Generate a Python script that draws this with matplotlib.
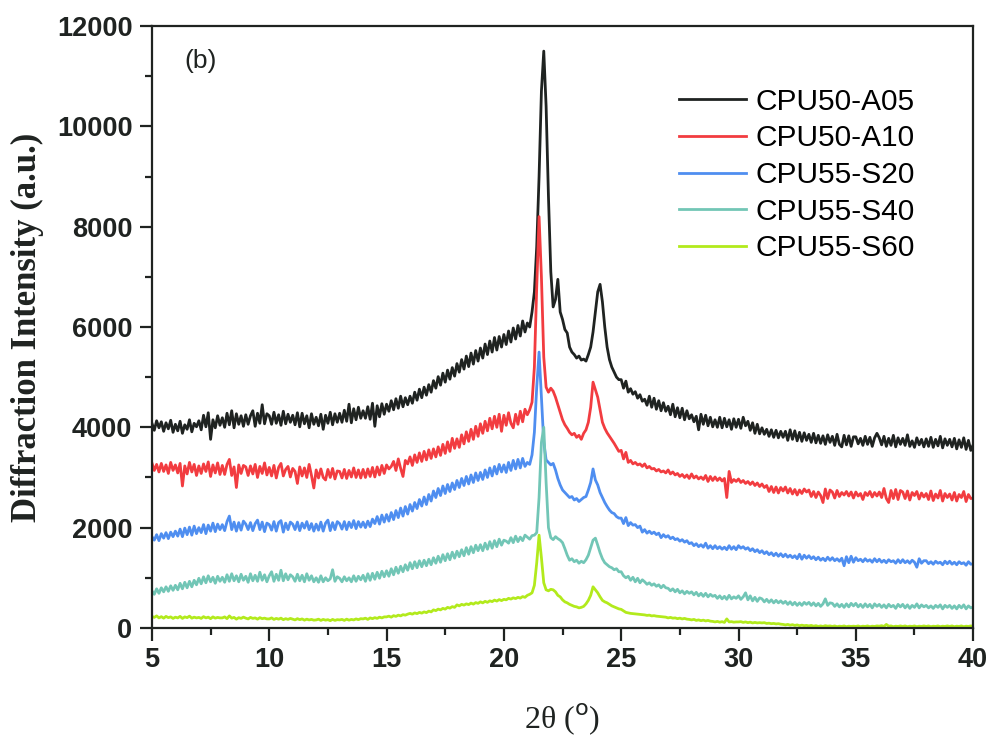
import numpy as np
import matplotlib
matplotlib.use("Agg")
import matplotlib.pyplot as plt
from matplotlib.ticker import MultipleLocator

# 2-theta grid, 0.1 deg steps from 5 to 40
two_theta = np.linspace(5, 40, 351)

labels = ["CPU50-A05", "CPU50-A10", "CPU55-S20", "CPU55-S40", "CPU55-S60"]
colors = ["#1f2321", "#f23c40", "#4f8ef0", "#72c6b6", "#b2ea1c"]

cpu50_a05 = [
    4080, 3940, 4130, 3990, 4110, 3920, 4090, 3970, 4140, 3900,
    4060, 3930, 4120, 3880, 4050, 3960, 4150, 3910, 4080, 4010,
    4130, 3950, 4240, 4010, 4290, 3760, 4150, 3990, 4230, 4040,
    4190, 4000, 4280, 4050, 4330, 3990, 4270, 4060, 4230, 4020,
    4250, 4060, 4230, 4330, 4020, 4280, 4080, 4450, 4070, 4270,
    4230, 4060, 4300, 4080, 4250, 4040, 4320, 4070, 4260, 4100,
    4240, 4050, 4290, 4010, 4280, 4070, 4230, 3990, 4270, 4060,
    4200, 4030, 4260, 3960, 4240, 4080, 4300, 4050, 4270, 4100,
    4280, 4100, 4340, 4120, 4460, 4090, 4370, 4150, 4400, 4180,
    4330, 4180, 4410, 4160, 4480, 4020, 4430, 4210, 4470, 4260,
    4460, 4320, 4530, 4350, 4570, 4380, 4620, 4410, 4590, 4450,
    4620, 4480, 4700, 4540, 4760, 4590, 4800, 4640, 4850, 4700,
    4930, 4780, 5010, 4840, 5080, 4900, 5140, 4960, 5190, 5020,
    5270, 5100, 5350, 5160, 5420, 5210, 5480, 5260, 5530, 5320,
    5580, 5380, 5660, 5450, 5720, 5500, 5790, 5540, 5810, 5600,
    5850, 5650, 5920, 5700, 5980, 5760, 6030, 5820, 6120, 5900,
    6080, 6000, 6300, 6700, 7600, 9000, 10700, 11500, 10400, 8600,
    7100, 6400, 6550, 6950, 6300, 6150, 5950, 5880, 5600, 5500,
    5450, 5380, 5420, 5340, 5360, 5320, 5450, 5600, 5900, 6300,
    6700, 6850, 6500, 6000, 5600, 5350, 5200, 5100, 5000, 4950,
    4950, 4780, 4920, 4700, 4770, 4660, 4710, 4580, 4650, 4520,
    4560, 4440, 4620, 4400, 4580, 4360, 4530, 4330, 4490, 4320,
    4420, 4250, 4460, 4210, 4390, 4190, 4380, 4150, 4330, 4170,
    4250, 4110, 4220, 3950, 4260, 4060, 4240, 4030, 4200, 4010,
    4150, 4000, 4200, 3990, 4180, 4010, 4150, 3960, 4170, 4000,
    4160, 3980, 4200, 4030, 4120, 3940, 4090, 3880, 4060, 3870,
    3990, 3860, 3960, 3820, 3950, 3800, 3940, 3790, 3920, 3800,
    3920, 3740, 3950, 3760, 3930, 3730, 3900, 3720, 3890, 3740,
    3860, 3700, 3880, 3690, 3840, 3680, 3830, 3660, 3850, 3700,
    3820, 3640, 3860, 3660, 3610, 3840, 3650, 3830, 3620, 3810,
    3810, 3670, 3780, 3640, 3820, 3660, 3800, 3620, 3790, 3880,
    3790, 3650, 3820, 3620, 3780, 3640, 3840, 3610, 3790, 3660,
    3780, 3640, 3850, 3620, 3730, 3600, 3790, 3650, 3760, 3610,
    3770, 3620, 3800, 3600, 3760, 3630, 3820, 3590, 3770, 3640,
    3760, 3610, 3780, 3570, 3750, 3600, 3790, 3560, 3740, 3540,
    3650,
]

cpu50_a10 = [
    3290, 3140, 3260, 3110, 3280, 3120, 3250, 3080, 3300, 3140,
    3250, 3090, 3280, 2830, 3230, 3070, 3300, 3110, 3260, 3040,
    3230, 3080, 3270, 3120, 3310, 3020, 3250, 3090, 3290, 3060,
    3240, 3060, 3260, 3360, 3040, 3210, 2800, 3250, 3080, 3240,
    3210, 3040, 3230, 3070, 3260, 3000, 3220, 3080, 3290, 3050,
    3200, 3030, 3240, 2990, 3200, 3280, 3030, 3160, 3220, 3010,
    3180, 3120, 2880, 3210, 3030, 3190, 3000, 3260, 3040, 2790,
    3150, 2990, 3170, 3000, 2950, 3160, 3000, 3180, 2970, 3130,
    3120, 2990, 3160, 2980, 3140, 3010, 3190, 3000, 3150, 2990,
    3160, 3000, 3170, 3020, 3200, 3010, 3210, 3050, 3240, 3080,
    3250, 3170, 3220, 3320, 3140, 3370, 3180, 3020, 3340, 3270,
    3410, 3240, 3450, 3300, 3490, 3320, 3520, 3350, 3550, 3380,
    3570, 3410, 3610, 3440, 3660, 3480, 3710, 3520, 3780, 3580,
    3770, 3600, 3850, 3670, 3910, 3720, 3960, 3760, 4020, 3820,
    4070, 3880, 4120, 3930, 4180, 3970, 4220, 4000, 4260, 3920,
    4240, 4040, 4290, 4080, 3990, 4260, 4060, 4320, 4110, 4360,
    4250, 4350, 4500, 5200, 6800, 8200, 7000, 5400, 4800, 4700,
    4780, 4720, 4600, 4450, 4300, 4150, 4050, 3980, 3900, 3850,
    3880, 3800, 3840, 3760, 3880, 3950, 4100, 4400, 4900, 4750,
    4600, 4350, 4100, 3980, 3890, 3820, 3750, 3680, 3600, 3520,
    3540, 3370, 3500, 3300, 3340, 3270, 3300, 3250, 3270, 3220,
    3270, 3190, 3220, 3170, 3180, 3130, 3160, 3110, 3130, 3090,
    3150, 3070, 3110, 3050, 3080, 3020, 3060, 3000, 3050, 2980,
    3070, 2990, 3030, 2970, 3010, 2960, 3040, 2920, 3020, 2940,
    3010, 2940, 2990, 2930, 2980, 2600, 3120, 2900, 2960, 2920,
    2970, 2900, 2940, 2880, 2920, 2860, 2910, 2840, 2890, 2820,
    2870, 2800, 2840, 2720, 2820, 2700, 2810, 2690, 2800, 2730,
    2810, 2690, 2780, 2670, 2760, 2650, 2750, 2680, 2770, 2710,
    2750, 2620, 2720, 2600, 2710, 2640, 2500, 2770, 2580, 2750,
    2710, 2590, 2740, 2620, 2700, 2650, 2720, 2630, 2710, 2590,
    2710, 2630, 2680, 2560, 2700, 2640, 2720, 2610, 2700, 2630,
    2710, 2600, 2780, 2580, 2500, 2740, 2580, 2760, 2560, 2740,
    2710, 2580, 2730, 2550, 2700, 2640, 2720, 2570, 2690, 2610,
    2680, 2560, 2730, 2540, 2670, 2590, 2740, 2530, 2680, 2600,
    2670, 2550, 2700, 2530, 2660, 2600, 2720, 2520, 2660, 2580,
    2590,
]

cpu55_s20 = [
    1820, 1750, 1860, 1740, 1880, 1790, 1900, 1780, 1910, 1820,
    1930, 1830, 1970, 1820, 1990, 1860, 2010, 1850, 2030, 1880,
    2000, 1900, 2060, 1880, 2050, 1930, 2090, 1920, 2070, 1960,
    2060, 1940, 2120, 2230, 1960, 2110, 1930, 2100, 1950, 2130,
    2070, 1960, 2100, 1940, 2080, 2150, 1960, 2110, 1920, 2090,
    2060, 1950, 2120, 1930, 2100, 2140, 1910, 2090, 1960, 2110,
    2070, 1960, 2110, 1940, 2090, 1990, 2120, 1960, 2080, 1930,
    2070, 1950, 2110, 1930, 2090, 2150, 1940, 2100, 1960, 2120,
    2080, 1970, 2120, 1960, 2110, 2000, 2140, 1980, 2120, 2010,
    2110, 2000, 2130, 2020, 2170, 2080, 2220, 2070, 2250, 2110,
    2260, 2130, 2300, 2160, 2340, 2200, 2390, 2230, 2420, 2270,
    2460, 2330, 2500, 2380, 2560, 2430, 2610, 2460, 2660, 2530,
    2730, 2600, 2780, 2640, 2830, 2680, 2860, 2720, 2890, 2760,
    2940, 2800, 2980, 2840, 3020, 2870, 3050, 2900, 3090, 2940,
    3100, 2960, 3150, 3000, 3190, 3030, 3220, 3070, 3260, 3110,
    3250, 3100, 3300, 3140, 3340, 3170, 3360, 3190, 3380, 3220,
    3300, 3260, 3450, 3900, 4800, 5500, 4600, 3700, 3350, 3300,
    3250, 3280, 3150, 2980, 2850, 2750, 2700, 2650, 2600, 2620,
    2550, 2580, 2520, 2560, 2600, 2620, 2750, 2900, 3170, 2950,
    2850, 2700, 2600, 2500, 2420, 2350, 2300, 2280, 2220, 2190,
    2190, 2080, 2200, 2040, 2100, 2050, 2060, 2000, 2030, 1910,
    1960, 1890, 1930, 1880, 1910, 1860, 1890, 1800, 1860, 1810,
    1840, 1780, 1810, 1760, 1780, 1730, 1760, 1710, 1740, 1680,
    1700, 1640, 1680, 1620, 1660, 1610, 1690, 1590, 1640, 1580,
    1640, 1580, 1620, 1570, 1610, 1560, 1640, 1570, 1620, 1560,
    1640, 1590, 1620, 1570, 1600, 1540, 1580, 1520, 1560, 1500,
    1540, 1480, 1520, 1460, 1500, 1440, 1490, 1430, 1480, 1420,
    1470, 1410, 1450, 1400, 1440, 1380, 1470, 1370, 1450, 1390,
    1440, 1380, 1420, 1360, 1410, 1350, 1390, 1340, 1410, 1350,
    1400, 1340, 1380, 1330, 1390, 1240, 1420, 1300, 1430, 1310,
    1400, 1340, 1370, 1320, 1380, 1330, 1360, 1310, 1380, 1320,
    1370, 1310, 1350, 1300, 1360, 1320, 1340, 1290, 1360, 1300,
    1360, 1300, 1340, 1290, 1350, 1310, 1210, 1380, 1290, 1340,
    1340, 1280, 1320, 1270, 1330, 1290, 1310, 1260, 1330, 1280,
    1330, 1270, 1310, 1260, 1320, 1280, 1300, 1250, 1320, 1270,
    1280,
]

cpu55_s40 = [
    740, 670, 780, 690, 800, 720, 820, 730, 840, 750,
    850, 760, 890, 780, 910, 800, 930, 820, 950, 860,
    990, 880, 1020, 900, 1040, 920, 1010, 890, 1030, 930,
    1010, 910, 1060, 930, 1080, 940, 1040, 920, 1070, 950,
    1030, 910, 1080, 940, 1050, 930, 1110, 950, 1060, 920,
    1040, 1120, 930, 1070, 950, 1150, 940, 1080, 960, 1060,
    1020, 930, 1070, 940, 1050, 920, 1080, 950, 1040, 920,
    1000, 910, 1040, 920, 1000, 940, 980, 1160, 930, 1020,
    990, 920, 1020, 940, 1000, 920, 1040, 930, 1030, 960,
    1050, 930, 1080, 950, 1090, 970, 1110, 990, 1130, 1020,
    1140, 1030, 1180, 1060, 1210, 1090, 1230, 1120, 1260, 1150,
    1300, 1180, 1320, 1200, 1340, 1220, 1350, 1240, 1370, 1260,
    1400, 1290, 1430, 1310, 1460, 1340, 1480, 1360, 1510, 1390,
    1530, 1420, 1560, 1440, 1600, 1470, 1620, 1500, 1650, 1540,
    1660, 1540, 1690, 1570, 1720, 1590, 1740, 1620, 1770, 1650,
    1750, 1730, 1690, 1800, 1700, 1830, 1720, 1810, 1740, 1850,
    1810, 1770, 1840, 1850, 1900, 2600, 3700, 4000, 2900, 2000,
    1800, 1760, 1820, 1780, 1750, 1700, 1580, 1450, 1350, 1380,
    1320, 1350, 1290, 1330, 1300, 1360, 1450, 1600, 1750, 1790,
    1650, 1500, 1380, 1300, 1260, 1220, 1200, 1160, 1180, 1120,
    1120, 1040, 1000, 1030, 950, 1010, 920, 990, 900, 960,
    920, 870, 900, 850, 880, 830, 860, 800, 850, 800,
    790, 740, 780, 720, 770, 700, 740, 680, 730, 690,
    720, 660, 710, 640, 690, 630, 690, 620, 670, 630,
    650, 590, 640, 580, 630, 570, 650, 580, 620, 590,
    640, 570, 620, 700, 560, 640, 540, 610, 530, 600,
    580, 520, 570, 510, 560, 500, 550, 500, 540, 490,
    530, 470, 520, 460, 510, 450, 500, 450, 510, 470,
    510, 450, 500, 440, 490, 430, 480, 580, 450, 500,
    490, 430, 480, 420, 470, 410, 480, 420, 490, 440,
    490, 420, 470, 410, 480, 420, 470, 400, 480, 430,
    470, 410, 460, 400, 470, 420, 450, 390, 470, 420,
    470, 400, 460, 390, 450, 410, 480, 400, 460, 420,
    450, 400, 440, 390, 450, 410, 460, 380, 450, 410,
    450, 390, 440, 380, 450, 400, 460, 380, 440, 400,
    420,
]

cpu55_s60 = [
    230, 210, 240, 200, 225, 195, 230, 205, 220, 190,
    215, 200, 230, 190, 220, 205, 235, 195, 215, 200,
    210, 190, 225, 200, 215, 185, 220, 195, 210, 200,
    200, 220, 185, 240, 195, 210, 175, 205, 190, 215,
    195, 180, 210, 190, 200, 175, 205, 185, 195, 180,
    180, 200, 170, 190, 175, 195, 165, 185, 170, 190,
    175, 160, 185, 165, 180, 155, 175, 160, 170, 155,
    160, 175, 150, 170, 155, 165, 145, 170, 150, 165,
    160, 170, 150, 175, 155, 170, 160, 180, 165, 185,
    180, 195, 170, 200, 185, 205, 190, 215, 200, 220,
    220, 235, 215, 245, 230, 255, 240, 265, 255, 275,
    290, 275, 300, 285, 310, 295, 320, 305, 335, 320,
    360, 345, 375, 360, 390, 375, 410, 395, 425, 410,
    460, 440, 470, 455, 480, 465, 495, 475, 505, 490,
    520, 500, 530, 510, 540, 525, 555, 535, 565, 545,
    570, 560, 590, 575, 600, 585, 610, 595, 625, 610,
    650, 670, 700, 850, 1300, 1850, 1400, 900, 760, 740,
    770, 760, 720, 650, 620, 560, 520, 500, 470, 450,
    430, 420, 400, 410, 430, 480, 550, 650, 820, 760,
    700, 620, 550, 520, 500, 470, 440, 420, 400, 380,
    370, 340, 310, 300, 290, 285, 280, 275, 270, 265,
    260, 250, 255, 240, 245, 235, 230, 225, 220, 215,
    200, 210, 195, 200, 185, 195, 180, 190, 175, 170,
    160, 170, 150, 160, 145, 155, 140, 150, 135, 130,
    120, 130, 115, 125, 110, 180, 120, 125, 115, 120,
    120, 125, 110, 120, 105, 115, 100, 110, 100, 105,
    100, 105, 90, 95, 85, 90, 80, 85, 75, 70,
    60, 70, 55, 65, 50, 60, 45, 55, 45, 50,
    40, 50, 35, 45, 30, 40, 30, 45, 35, 40,
    30, 40, 25, 35, 30, 40, 25, 35, 30, 35,
    30, 40, 25, 35, 30, 40, 25, 35, 30, 40,
    35, 45, 30, 70, 35, 40, 25, 35, 30, 40,
    30, 40, 25, 35, 30, 40, 25, 35, 30, 40,
    30, 40, 25, 35, 30, 40, 25, 35, 30, 40,
    30, 40, 25, 35, 30, 40, 25, 35, 30, 40,
    30,
]

series = [cpu50_a05, cpu50_a10, cpu55_s20, cpu55_s40, cpu55_s60]

fig = plt.figure(figsize=(9.93, 7.44), dpi=100)
ax = fig.add_axes([0.153, 0.156, 0.827, 0.809])

for y, c, lab in zip(series, colors, labels):
    ax.plot(two_theta, y, color=c, lw=2.0, label=lab)

ax.set_xlim(5, 40)
ax.set_ylim(0, 12000)
ax.xaxis.set_major_locator(MultipleLocator(5))
ax.xaxis.set_minor_locator(MultipleLocator(2.5))
ax.yaxis.set_major_locator(MultipleLocator(2000))
ax.yaxis.set_minor_locator(MultipleLocator(1000))

for side in ["left", "right", "top", "bottom"]:
    ax.spines[side].set_linewidth(1.6)
    ax.spines[side].set_color("#1f2321")
ax.tick_params(which="major", direction="out", length=9, width=1.6,
               color="#1f2321", pad=5)
ax.tick_params(which="minor", direction="out", length=5, width=1.6,
               color="#1f2321")
for lbl in ax.get_xticklabels() + ax.get_yticklabels():
    lbl.set_fontfamily("Liberation Sans")
    lbl.set_fontweight("bold")
    lbl.set_fontsize(19.5)
    lbl.set_color("#1f2321")

ax.set_ylabel("Diffraction Intensity (a.u.)", family="Liberation Serif",
              fontweight="bold", fontsize=25, color="#1f2321", labelpad=9)
ax.set_xlabel(r"2θ ($^{\mathrm{o}}$)", family="Liberation Serif",
              fontsize=23, color="#1f2321", labelpad=20)

ax.text(0.040, 0.962, "(b)", transform=ax.transAxes, ha="left", va="top",
        family="Liberation Sans", fontsize=19, color="#1f2321")

ax.legend(loc="upper left", bbox_to_anchor=(0.684, 0.882),
          bbox_transform=fig.transFigure, frameon=False, borderpad=0,
          borderaxespad=0, handlelength=2.24, handletextpad=0.3,
          labelspacing=0.29, prop={"family": "Liberation Sans", "size": 21.5})

fig.savefig("out.png", dpi=100)
